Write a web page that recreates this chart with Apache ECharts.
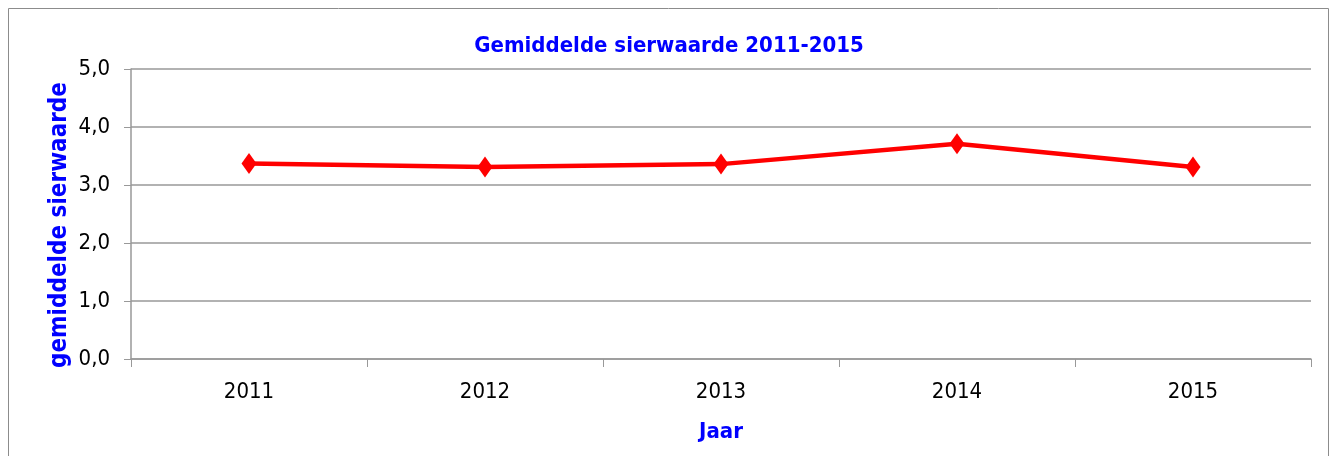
<!DOCTYPE html>
<html>
<head>
<meta charset="utf-8">
<script src="https://cdn.jsdelivr.net/npm/echarts@6/dist/echarts.min.js"></script>
<style>
  html, body { margin: 0; padding: 0; background: #fff; }
  #main { width: 1338px; height: 456px; }
</style>
</head>
<body>
<div id="main"></div>
<script>
var jaren = ['2011', '2012', '2013', '2014', '2015'];
var sierwaarde = [3.37, 3.31, 3.36, 3.71, 3.31];

var font = '"DejaVu Sans Condensed", "Liberation Sans Narrow", "Noto Sans", sans-serif';
var blauw = '#0000ff';

var myChart = echarts.init(document.getElementById('main'));
var options = {
    animation: false,
    // kader rond de grafiek
    graphic: [{
        type: 'rect',
        shape: { x: 8.5, y: 8.5, width: 1320, height: 470 },
        style: { fill: 'none', stroke: '#8c8c8c', lineWidth: 1 },
        silent: true
    }],
    title: {
        text: 'Gemiddelde sierwaarde 2011-2015',
        left: 'center',
        top: 30,
        textStyle: { color: blauw, fontSize: 22, fontWeight: 'bold', fontFamily: font }
    },
    grid: { left: 131, right: 27, top: 69, bottom: 97 },
    xAxis: {
        type: 'category',
        data: jaren,
        boundaryGap: true,
        name: 'Jaar',
        nameLocation: 'middle',
        nameGap: 62,
        nameTextStyle: { color: blauw, fontSize: 22, fontWeight: 'bold', fontFamily: font },
        axisLine: { lineStyle: { color: '#999', width: 1.5 } },
        axisTick: { show: true, length: 8, alignWithLabel: false, lineStyle: { color: '#999' } },
        axisLabel: { color: '#000', fontSize: 22, fontFamily: font, margin: 22 }
    },
    yAxis: {
        type: 'value',
        min: 0,
        max: 5,
        interval: 1,
        name: 'gemiddelde sierwaarde',
        nameLocation: 'middle',
        nameGap: 59,
        nameMoveOverlap: false,
        nameTextStyle: {
            color: blauw, fontSize: 24, fontWeight: 'bold', fontFamily: font,
            padding: [0, 22, 0, 0]
        },
        axisLine: { show: true, lineStyle: { color: '#999', width: 1.5 } },
        axisTick: { show: true, length: 7, lineStyle: { color: '#999' } },
        axisLabel: {
            color: '#000', fontSize: 22, fontFamily: font, margin: 21,
            formatter: function (v) { return v.toFixed(1).replace('.', ','); }
        },
        splitLine: { lineStyle: { color: '#999', width: 1.5 } }
    },
    series: [{
        type: 'line',
        data: sierwaarde,
        symbol: 'diamond',
        symbolSize: [15, 21],
        showAllSymbol: true,
        lineStyle: { color: '#ff0000', width: 4.5 },
        itemStyle: { color: '#ff0000' }
    }]
};
myChart.setOption(options);
</script>
</body>
</html>
